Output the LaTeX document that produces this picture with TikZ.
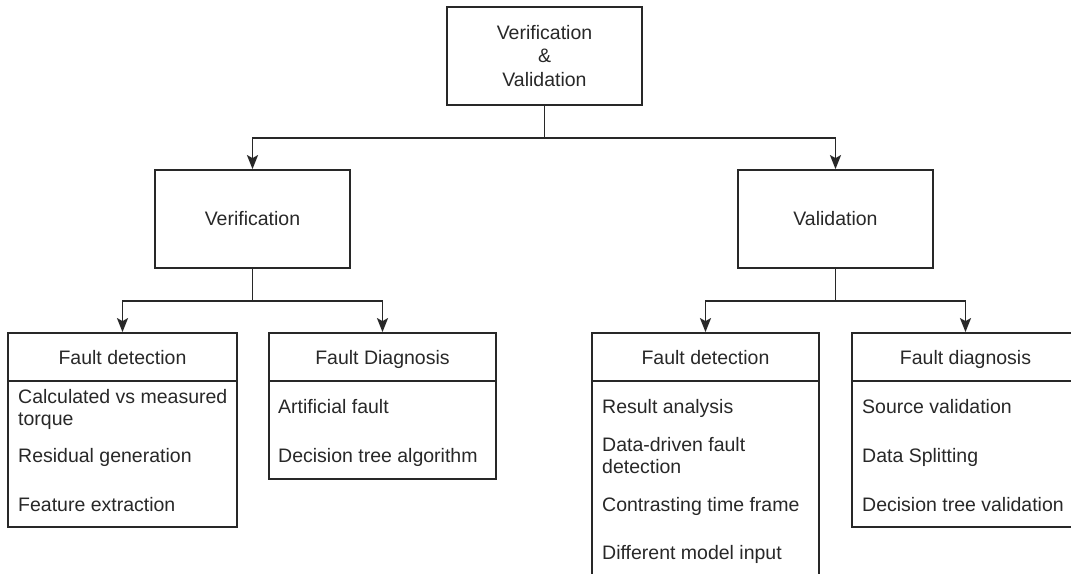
\documentclass[tikz,border=0pt]{standalone}
\usepackage{fontspec}
\setmainfont{Liberation Sans}
\usetikzlibrary{arrows.meta}
\definecolor{ink}{RGB}{40,40,40}
\tikzset{
  box/.style={draw=ink, line width=1.8pt, fill=white, inner sep=0pt},
  link/.style={draw=ink, line width=1.8pt, -{Stealth[length=14pt,width=11pt,inset=3pt]}},
  rule/.style={draw=ink, line width=1.8pt},
  lbl/.style={text=ink, font=\fontsize{19.5}{23.5}\selectfont, inner sep=0pt},
  head/.style={lbl, anchor=base},
  item/.style={lbl, anchor=base west},
}
\begin{document}
\begin{tikzpicture}[x=1pt,y=-1pt]
  \useasboundingbox (0,0) rectangle (1071,573);

  % top level and second level boxes
  \node[box, minimum width=195pt, minimum height=98pt, align=center, lbl]
    (top) at (544.5,56) {Verification\\\&\\Validation};
  \node[box, minimum width=195pt, minimum height=98pt] (ver) at (252.5,219) {};
  \node[head] (verT) at (252.5,225) {Verification};
  \node[box, minimum width=195pt, minimum height=98pt] (val) at (835.5,219) {};
  \node[head] (valT) at (835.5,225) {Validation};

  % third level boxes (outer frames)
  \node[box, minimum width=229pt, minimum height=194pt] (fd1) at (122.5,430) {};
  \node[box, minimum width=227pt, minimum height=146pt] (fg1) at (382.5,406) {};
  \node[box, minimum width=227pt, minimum height=280pt] (fd2) at (705.5,473) {};
  \node[box, minimum width=227pt, minimum height=194pt] (fg2) at (965.5,430) {};

  % header dividers
  \foreach \b in {fd1,fg1,fd2,fg2}
    \draw[rule] ([yshift=-49pt]\b.north west) -- ([yshift=-49pt]\b.north east);

  % headers
  \node[head] (fd1h) at (122.5,364) {Fault detection};
  \node[head] (fg1h) at (382.5,364) {Fault Diagnosis};
  \node[head] (fd2h) at (705.5,364) {Fault detection};
  \node[head] (fg2h) at (965.5,364) {Fault diagnosis};

  % list entries
  \node[item] (fd1a) at (18,403) {Calculated vs measured};
  \node[item] (fd1b) at (18,425) {torque};
  \node[item] (fd1c) at (18,462) {Residual generation};
  \node[item] (fd1d) at (18,511) {Feature extraction};

  \node[item] (fg1a) at (278,413) {Artificial fault};
  \node[item] (fg1b) at (278,462) {Decision tree algorithm};

  \node[item] (fd2a) at (602,413) {Result analysis};
  \node[item] (fd2b) at (602,451) {Data-driven fault};
  \node[item] (fd2c) at (602,473.5) {detection};
  \node[item] (fd2d) at (602,511) {Contrasting time frame};
  \node[item] (fd2e) at (602,559) {Different model input};

  \node[item] (fg2a) at (862,413) {Source validation};
  \node[item] (fg2b) at (862,462) {Data Splitting};
  \node[item] (fg2c) at (862,511) {Decision tree validation};

  % connectors
  \draw[link] (top.south) -- ++(0,32) -| (ver.north);
  \draw[link] (top.south) -- ++(0,32) -| (val.north);
  \draw[link] (ver.south) -- ++(0,32) -| (fd1.north);
  \draw[link] (ver.south) -- ++(0,32) -| (fg1.north);
  \draw[link] (val.south) -- ++(0,32) -| (fd2.north);
  \draw[link] (val.south) -- ++(0,32) -| (fg2.north);
\end{tikzpicture}
\end{document}
